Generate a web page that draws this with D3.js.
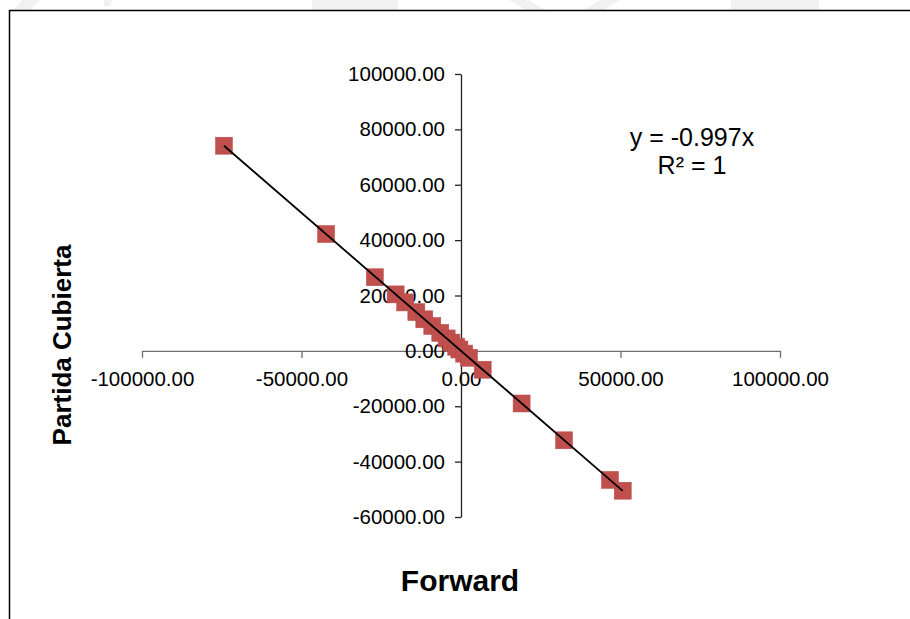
<!DOCTYPE html>
<html>
<head>
<meta charset="utf-8">
<script src="https://cdn.jsdelivr.net/npm/d3@7"></script>
<style>
  html, body { margin: 0; padding: 0; background: #fff; }
  svg { display: block; font-family: "Liberation Sans", Arial, sans-serif; }
</style>
</head>
<body>
<svg id="chart" width="910" height="619"></svg>
<script>
// ---- data ----
const forward = [-74300, -42300, -27000, -20500, -17500, -14000, -11500, -9000, -6500, -4500, -3000, -1500, -500, 1000, 2500, 6800, 19000, 32300, 46700, 50700];
const partidaCubierta = [74100, 42200, 26600, 20400, 17500, 14000, 11400, 9000, 6500, 4500, 3000, 1500, 500, -1000, -2500, -6800, -19000, -32300, -46600, -50500];
const xTicks = [-100000, -50000, 0, 50000, 100000];
const yTicks = [-60000, -40000, -20000, 0, 20000, 40000, 60000, 80000, 100000];
const slope = -0.997;
const equationLines = ["y = -0.997x", "R² = 1"];
const xTitle = "Forward";
const yTitle = "Partida Cubierta";

const svg = d3.select("#chart");

// faint watermark fragments at top
const wm = svg.append("g").attr("fill", "#f1f1f1");
["M22,0 L40,0 L30,10 L14,10 Z", "M104,0 L112,0 L110,6 L104,6 Z", "M312,0 L398,0 L398,10 L312,10 Z",
 "M509,0 L528,0 L545,10 L526,10 Z", "M600,0 L620,0 L603,10 L584,10 Z", "M731,0 L819,0 L819,10 L731,10 Z"].forEach(d =>
  wm.append("path").attr("d", d));

// frame
svg.append("path").attr("d", "M9.5,619 L9.5,10.5 L910,10.5")
  .attr("fill", "none").attr("stroke", "#000").attr("stroke-width", 1.5);

const x = d3.scaleLinear().domain([-100000, 100000]).range([142, 780]);
const y = d3.scaleLinear().domain([-60000, 100000]).range([517, 74]);
const loc = d3.formatLocale({ decimal: ".", thousands: "", grouping: [3], currency: ["", ""], minus: "-" });
const fmt = loc.format(".2f");

// x axis
const gx = svg.append("g").attr("transform", `translate(0,${y(0)})`)
  .call(d3.axisBottom(x).tickValues(xTicks).tickFormat(fmt).tickSize(7).tickSizeOuter(0).tickPadding(14));
gx.select(".domain").attr("stroke", "#6e6e6e").attr("stroke-width", 1.3);
gx.selectAll(".tick line").attr("stroke", "#6e6e6e").attr("stroke-width", 1.3);
gx.selectAll(".tick text").attr("font-size", 20.5).attr("fill", "#000").attr("font-family", "Liberation Sans, Arial, sans-serif");

// y axis
const gy = svg.append("g").attr("transform", `translate(${x(0)},0)`)
  .call(d3.axisLeft(y).tickValues(yTicks).tickFormat(fmt).tickSize(6).tickSizeOuter(0).tickPadding(10));
gy.select(".domain").attr("stroke", "#222").attr("stroke-width", 1.3);
gy.selectAll(".tick line").attr("stroke", "#222").attr("stroke-width", 1.3);
gy.selectAll(".tick text").attr("font-size", 20.5).attr("fill", "#000").attr("font-family", "Liberation Sans, Arial, sans-serif");

// points
const pts = forward.map((v, i) => ({ fx: v, py: partidaCubierta[i] }));
const s = 17;
svg.append("g").selectAll("rect").data(pts).join("rect")
  .attr("x", d => x(d.fx) - s / 2)
  .attr("y", d => y(d.py) - s / 2)
  .attr("width", s).attr("height", s)
  .attr("fill", "#C0504D").attr("stroke", "#B84A47").attr("stroke-width", 0.5);

// trendline
const xmin = d3.min(forward), xmax = d3.max(forward);
svg.append("line")
  .attr("x1", x(xmin)).attr("y1", y(slope * xmin))
  .attr("x2", x(xmax)).attr("y2", y(slope * xmax))
  .attr("stroke", "#000").attr("stroke-width", 1.8);

// equation
svg.append("g").selectAll("text").data(equationLines).join("text")
  .attr("x", 692).attr("y", (d, i) => 146 + i * 28)
  .attr("text-anchor", "middle").attr("font-size", 25).attr("fill", "#000")
  .text(d => d);

// titles
svg.append("text").attr("x", 460).attr("y", 591).attr("text-anchor", "middle")
  .attr("font-size", 30).attr("font-weight", "bold").text(xTitle);
svg.append("text").attr("transform", "translate(71,345) rotate(-90)").attr("text-anchor", "middle")
  .attr("font-size", 26).attr("font-weight", "bold").text(yTitle);
</script>
</body>
</html>
